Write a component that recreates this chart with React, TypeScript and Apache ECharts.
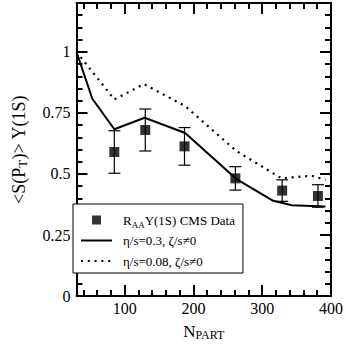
import React, { useEffect, useRef } from "react";
import * as echarts from "echarts";

// ---- data ----
const nPart = [85, 130, 187, 261, 329, 381];
const raa = [0.59, 0.68, 0.613, 0.482, 0.432, 0.41];
const raaErr = [0.087, 0.086, 0.077, 0.048, 0.044, 0.046];

const solidN = [30, 53, 85, 129, 188, 262, 316, 343, 392];
const solidS = [1.0, 0.808, 0.683, 0.73, 0.668, 0.48, 0.39, 0.372, 0.367];

const dottedN = [30, 85, 128, 188, 262, 328, 372, 392];
const dottedS = [1.0, 0.805, 0.868, 0.778, 0.595, 0.482, 0.493, 0.476];

const xMajor = [100, 200, 300, 400];
const xMinor = [40, 60, 80, 120, 140, 160, 180, 220, 240, 260, 280, 320, 340, 360, 380];
const yMajor = [0, 0.25, 0.5, 0.75, 1];
const yMinor = [0.05, 0.1, 0.15, 0.2, 0.3, 0.35, 0.4, 0.45, 0.55, 0.6, 0.65, 0.7, 0.8, 0.85, 0.9, 0.95, 1.05, 1.1, 1.15];

const FONT = "Liberation Serif";

const richStyles = (size: number, sub: number, drop: number, lh: number) => ({
  n: { fontFamily: FONT, fontSize: size, lineHeight: lh, color: "#000" },
  s: { fontFamily: FONT, fontSize: sub, lineHeight: lh - drop, padding: [drop, 0, 0, 0], color: "#000" },
});

function mkAxis(kind: "x" | "y", position: string, ticks: number[], len: number, showLabel: boolean, showLine: boolean, extra: any = {}) {
  const isX = kind === "x";
  return {
    type: "value",
    gridIndex: 0,
    position,
    min: isX ? 30 : 0,
    max: isX ? 400 : 1.2,
    axisLine: { show: showLine, onZero: false, lineStyle: { color: "#000", width: 2 } },
    axisTick: { show: true, inside: true, length: len, customValues: ticks, lineStyle: { color: "#000", width: 2 } },
    axisLabel: {
      show: showLabel,
      customValues: ticks,
      fontFamily: FONT,
      fontSize: 16,
      color: "#000",
      margin: isX ? 4 : 6,
      formatter: (v: number) => `{t|${Number(v.toFixed(2))}}`,
      rich: { t: { fontFamily: FONT, fontSize: 16, color: "#000" } },
    },
    splitLine: { show: false },
    ...extra,
  };
}

export default function App() {
  const ref = useRef<HTMLDivElement>(null);
  useEffect(() => {
    if (!ref.current) return;
    const chart = echarts.init(ref.current, undefined, { renderer: "svg" });
    const errData = nPart.map((n, i) => [n, raa[i] - raaErr[i], raa[i] + raaErr[i]]);
    const hiddenSymbol = { opacity: 0, borderWidth: 0 };
    chart.setOption({
      animation: false,
      textStyle: { fontFamily: FONT },
      grid: { left: 60, top: 3, right: 14, bottom: 48 },
      xAxis: [
        mkAxis("x", "bottom", xMajor, 11, true, true, {
          name: "{n|N}{s|PART}",
          nameLocation: "middle",
          nameGap: 20,
          nameTextStyle: { fontFamily: FONT, rich: richStyles(17, 12, 8, 21) },
        }),
        mkAxis("x", "bottom", xMinor, 6, false, false),
        mkAxis("x", "top", xMajor, 11, false, true),
        mkAxis("x", "top", xMinor, 6, false, false),
      ],
      yAxis: [
        mkAxis("y", "left", yMajor, 11, true, true, {
          name: "{n|<S(P}{s|T}{n|)> Υ(1S)}",
          nameLocation: "middle",
          nameRotate: 90,
          nameGap: 47,
          nameMoveOverlap: false,
          nameTextStyle: { fontFamily: FONT, rich: richStyles(18, 13, 8, 22) },
        }),
        mkAxis("y", "left", yMinor, 6, false, false),
        mkAxis("y", "right", yMajor, 11, false, true),
        mkAxis("y", "right", yMinor, 6, false, false),
      ],
      legend: {
        orient: "vertical",
        left: 73,
        top: 204,
        data: [
          { name: "raa", icon: "path://M0,0L1,0L1,1L0,1Z" },
          { name: "solid", itemStyle: hiddenSymbol },
          { name: "dotted", itemStyle: hiddenSymbol },
        ],
        symbolKeepAspect: true,
        itemWidth: 31,
        itemHeight: 9,
        itemGap: 0.5,
        padding: [6, 8, 2, 7],
        borderColor: "#000",
        borderWidth: 1,
        borderRadius: 0,
        backgroundColor: "#fff",
        inactiveColor: "#000",
        selectedMode: false,
        textStyle: {
          fontFamily: FONT,
          fontSize: 13,
          lineHeight: 20,
          color: "#000",
          padding: [0, 0, 0, 6],
          rich: richStyles(13, 9, 9, 20),
        },
        formatter: (name: string) =>
          ({
            raa: "{n|R}{s|AA}{n|Υ(1S) CMS Data}",
            solid: "{n|η/s=0.3, ζ/s≠0}",
            dotted: "{n|η/s=0.08, ζ/s≠0}",
          } as Record<string, string>)[name],
      },
      series: [
        {
          name: "solid",
          type: "line",
          xAxisIndex: 0,
          yAxisIndex: 0,
          data: solidN.map((n, i) => [n, solidS[i]]),
          symbol: "none",
          lineStyle: { color: "#000", width: 2 },
          itemStyle: { color: "#000" },
          z: 2,
        },
        {
          name: "dotted",
          type: "line",
          xAxisIndex: 0,
          yAxisIndex: 0,
          data: dottedN.map((n, i) => [n, dottedS[i]]),
          symbol: "none",
          lineStyle: { color: "#000", width: 2.2, type: [2, 4.8] },
          itemStyle: { color: "#000" },
          z: 2,
        },
        {
          name: "errors",
          type: "custom",
          xAxisIndex: 0,
          yAxisIndex: 0,
          data: errData,
          z: 3,
          renderItem: (_p: any, api: any) => {
            const lo = api.coord([api.value(0), api.value(1)]);
            const hi = api.coord([api.value(0), api.value(2)]);
            const w = 6;
            const st = { stroke: "#000", lineWidth: 1.2 };
            return {
              type: "group",
              children: [
                { type: "line", shape: { x1: lo[0], y1: lo[1], x2: hi[0], y2: hi[1] }, style: st },
                { type: "line", shape: { x1: lo[0] - w, y1: lo[1], x2: lo[0] + w, y2: lo[1] }, style: st },
                { type: "line", shape: { x1: hi[0] - w, y1: hi[1], x2: hi[0] + w, y2: hi[1] }, style: st },
              ],
            };
          },
        },
        {
          name: "raa",
          type: "scatter",
          xAxisIndex: 0,
          yAxisIndex: 0,
          data: nPart.map((n, i) => [n, raa[i]]),
          symbol: "rect",
          symbolSize: 10,
          itemStyle: { color: "#000" },
          z: 4,
        },
      ],
    });
    return () => chart.dispose();
  }, []);
  return <div ref={ref} style={{ width: 346, height: 346, position: "absolute", left: 0, top: 0 }} />;
}
